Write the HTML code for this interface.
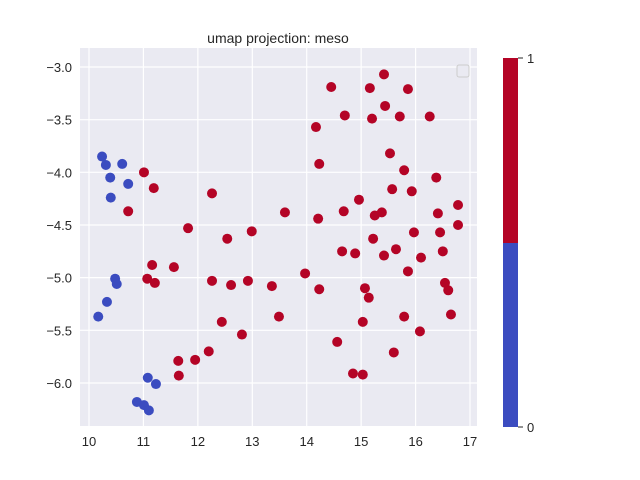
<!DOCTYPE html>
<html><head><meta charset="utf-8"><style>body{margin:0;background:#fff}svg{display:block;font-family:"Liberation Sans",sans-serif}</style></head>
<body>
<svg id="c" width="640" height="480"></svg>
<script>
const blueX=[10.24,10.31,10.61,10.39,10.72,10.40,10.48,10.51,10.33,10.17,11.08,11.23,10.88,11.01,11.10];
const blueY=[-3.85,-3.93,-3.92,-4.05,-4.11,-4.24,-5.01,-5.06,-5.23,-5.37,-5.95,-6.01,-6.18,-6.21,-6.26];
const redX=[11.01,11.19,12.26,10.72,11.82,12.54,12.99,11.16,11.56,11.07,11.21,12.26,12.61,12.92,13.36,13.49,12.44,12.81,12.20,11.64,11.95,11.65,15.42,14.45,15.16,15.86,15.44,14.70,15.20,15.71,16.26,14.17,15.53,14.23,15.79,16.38,15.57,15.93,14.96,13.60,14.68,14.21,15.25,15.38,16.41,16.78,16.78,15.97,16.45,15.22,14.65,14.89,15.42,15.64,16.10,16.50,15.86,13.97,14.23,15.07,15.14,16.54,16.60,15.03,15.79,16.65,16.08,14.56,15.60,14.85,15.03];
const redY=[-4.00,-4.15,-4.20,-4.37,-4.53,-4.63,-4.56,-4.88,-4.90,-5.01,-5.05,-5.03,-5.07,-5.03,-5.08,-5.37,-5.42,-5.54,-5.70,-5.79,-5.78,-5.93,-3.07,-3.19,-3.20,-3.21,-3.37,-3.46,-3.49,-3.47,-3.47,-3.57,-3.82,-3.92,-3.98,-4.05,-4.16,-4.18,-4.26,-4.38,-4.37,-4.44,-4.41,-4.38,-4.39,-4.31,-4.50,-4.57,-4.57,-4.63,-4.75,-4.77,-4.79,-4.73,-4.81,-4.75,-4.94,-4.96,-5.11,-5.10,-5.19,-5.05,-5.12,-5.42,-5.37,-5.35,-5.51,-5.61,-5.71,-5.91,-5.92];
const xTicks=[10,11,12,13,14,15,16,17];
const yTicks=[-3.0,-3.5,-4.0,-4.5,-5.0,-5.5,-6.0];
const X=v=>89+(v-10)*54.43, Y=v=>67+(-3-v)*105.33;
const s=document.getElementById('c'),NS='http://www.w3.org/2000/svg';
function mk(t,a,p){const e=document.createElementNS(NS,t);for(const k in a)e.setAttribute(k,a[k]);(p||s).appendChild(e);return e;}
const bg=mk('rect',{x:80,y:48,width:397,height:378,fill:'#eaeaf2'});


xTicks.forEach(t=>{const l=mk('line',{x1:X(t),x2:X(t),y1:48,y2:426,stroke:'#fff','stroke-width':1.2});


const tx=mk('text',{x:X(t),y:446,'text-anchor':'middle','font-size':13,fill:'#262626'});tx.textContent=t;

});
yTicks.forEach(t=>{const l=mk('line',{x1:80,x2:477,y1:Y(t),y2:Y(t),stroke:'#fff','stroke-width':1.2});


const tx=mk('text',{x:72,y:Y(t)+5,'text-anchor':'end','font-size':13,fill:'#262626'});tx.textContent=t.toFixed(1).replace('-','\u2212');

});
redX.forEach((v,i)=>{const c=mk('circle',{cx:X(v),cy:Y(redY[i]),r:5,fill:'#b40426'});

});
blueX.forEach((v,i)=>{const c=mk('circle',{cx:X(v),cy:Y(blueY[i]),r:5,fill:'#3b4cc0'});

});
const lg=mk('rect',{x:457,y:65,width:12,height:12,rx:2,fill:'#eaeaf2',stroke:'#ccc'});


const ti=mk('text',{x:278,y:48-5,'text-anchor':'middle','font-size':14,fill:'#262626'});ti.textContent='umap projection: meso';


const cb1=mk('rect',{x:503,y:58,width:15,height:185,fill:'#b40426'});


const cb0=mk('rect',{x:503,y:243,width:15,height:184,fill:'#3b4cc0'});


[[58,'1'],[427,'0']].forEach(([y,t])=>{mk('line',{x1:518,x2:523,y1:y,y2:y,stroke:'#262626'});
const tx=mk('text',{x:527,y:y+5,'font-size':13,fill:'#262626'});tx.textContent=t;

});
</script>
</body></html>
